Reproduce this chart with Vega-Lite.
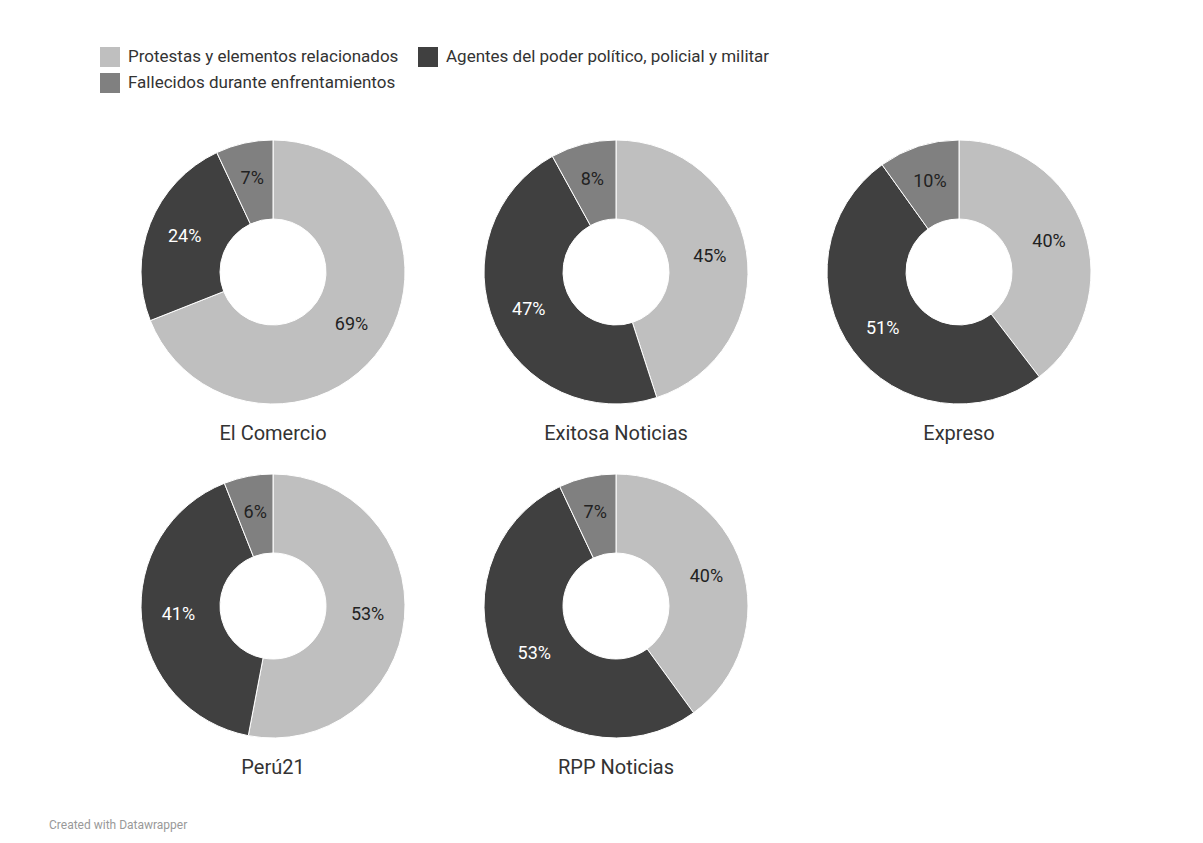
{
  "$schema": "https://vega.github.io/schema/vega-lite/v6.json",
  "padding": {"left": 49, "top": 47, "right": 10, "bottom": 5},
  "background": "white",
  "title": {"text": "Created with Datawrapper", "orient": "bottom", "anchor": "start", "dx": -51, "offset": 42, "fontSize": 12, "fontWeight": "normal", "color": "#999999", "font": "Roboto"},
  "data": {"values": [
    {"medio": "El Comercio", "categoria": "Protestas y elementos relacionados", "orden": 1, "valor": 0.69},
    {"medio": "El Comercio", "categoria": "Agentes del poder político, policial y militar", "orden": 2, "valor": 0.24},
    {"medio": "El Comercio", "categoria": "Fallecidos durante enfrentamientos", "orden": 3, "valor": 0.07},
    {"medio": "Exitosa Noticias", "categoria": "Protestas y elementos relacionados", "orden": 1, "valor": 0.45},
    {"medio": "Exitosa Noticias", "categoria": "Agentes del poder político, policial y militar", "orden": 2, "valor": 0.47},
    {"medio": "Exitosa Noticias", "categoria": "Fallecidos durante enfrentamientos", "orden": 3, "valor": 0.08},
    {"medio": "Expreso", "categoria": "Protestas y elementos relacionados", "orden": 1, "valor": 0.40},
    {"medio": "Expreso", "categoria": "Agentes del poder político, policial y militar", "orden": 2, "valor": 0.51},
    {"medio": "Expreso", "categoria": "Fallecidos durante enfrentamientos", "orden": 3, "valor": 0.10},
    {"medio": "Perú21", "categoria": "Protestas y elementos relacionados", "orden": 1, "valor": 0.53},
    {"medio": "Perú21", "categoria": "Agentes del poder político, policial y militar", "orden": 2, "valor": 0.41},
    {"medio": "Perú21", "categoria": "Fallecidos durante enfrentamientos", "orden": 3, "valor": 0.06},
    {"medio": "RPP Noticias", "categoria": "Protestas y elementos relacionados", "orden": 1, "valor": 0.40},
    {"medio": "RPP Noticias", "categoria": "Agentes del poder político, policial y militar", "orden": 2, "valor": 0.53},
    {"medio": "RPP Noticias", "categoria": "Fallecidos durante enfrentamientos", "orden": 3, "valor": 0.07}
  ]},
  "columns": 3,
  "spacing": {"column": 75, "row": 28},
  "facet": {
    "field": "medio",
    "type": "nominal",
    "sort": ["El Comercio", "Exitosa Noticias", "Expreso", "Perú21", "RPP Noticias"],
    "title": null,
    "header": {"labelOrient": "bottom", "labelFontSize": 20, "labelFont": "Roboto", "labelColor": "#333333", "labelPadding": 18}
  },
  "spec": {
    "width": 264,
    "height": 264,
    "layer": [
      {
        "mark": {"type": "arc", "outerRadius": 132, "innerRadius": 53, "stroke": "white", "strokeWidth": 1},
        "encoding": {
          "theta": {"field": "valor", "type": "quantitative", "stack": true},
          "order": {"field": "orden", "type": "quantitative"},
          "color": {
            "field": "categoria",
            "type": "nominal",
            "scale": {
              "domain": ["Protestas y elementos relacionados", "Agentes del poder político, policial y militar", "Fallecidos durante enfrentamientos"],
              "range": ["#bfbfbf", "#404040", "#808080"]
            },
            "legend": {
              "title": null,
              "orient": "none",
              "legendX": -41,
              "legendY": -93,
              "direction": "horizontal",
              "columns": 2,
              "columnPadding": 19,
              "rowPadding": 6,
              "symbolType": "square",
              "symbolSize": 400,
              "symbolStrokeWidth": 0,
              "symbolOpacity": 1,
              "labelFontSize": 17,
              "labelFont": "Roboto",
              "labelColor": "#333333",
              "labelOffset": 8,
              "labelLimit": 500
            }
          }
        }
      },
      {
        "mark": {"type": "text", "radius": 95, "fontSize": 18, "font": "Roboto"},
        "encoding": {
          "theta": {"field": "valor", "type": "quantitative", "stack": true},
          "order": {"field": "orden", "type": "quantitative"},
          "text": {"field": "valor", "type": "quantitative", "format": ".0%"},
          "color": {
            "condition": {"test": "datum.orden === 2", "value": "#ffffff"},
            "value": "#222222"
          }
        }
      }
    ]
  },
  "config": {"view": {"stroke": null}}
}
